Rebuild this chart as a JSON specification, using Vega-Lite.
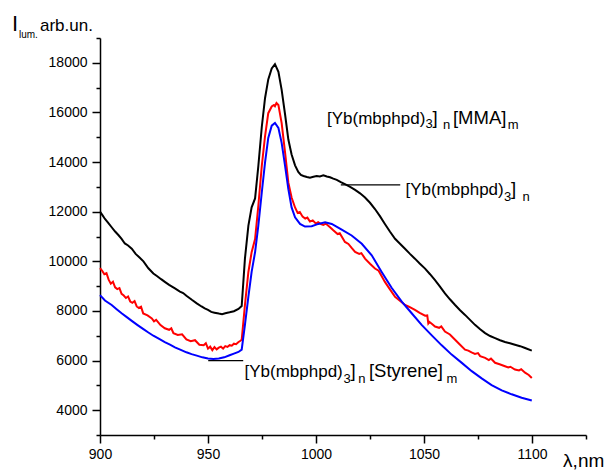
{
  "$schema": "https://vega.github.io/schema/vega-lite/v6.json",
  "width": 486,
  "height": 397,
  "autosize": {"type": "none"},
  "padding": {"left": 100, "top": 38, "right": 24, "bottom": 35},
  "background": "white",
  "config": {"view": {"stroke": null}, "font": "Liberation Sans"},
  "resolve": {"scale": {"x": "shared", "y": "shared"}, "axis": {"x": "independent", "y": "independent"}},
  "encoding": {
    "x": {"field": "x", "type": "quantitative", "scale": {"domain": [900, 1125], "nice": false, "zero": false}, "axis": null},
    "y": {"field": "y", "type": "quantitative", "scale": {"domain": [3000, 19000], "nice": false, "zero": false}, "axis": null}
  },
  "layer": [
    {
      "data": {"values": [
        {"s":"Yb","x":900.0,"y":12000},{"s":"Yb","x":901.2,"y":11850},{"s":"Yb","x":902.3,"y":11707},{"s":"Yb","x":903.8,"y":11550},{"s":"Yb","x":905.4,"y":11373},{"s":"Yb","x":907,"y":11200},{"s":"Yb","x":908.5,"y":11060},{"s":"Yb","x":910.0,"y":10907},{"s":"Yb","x":911.5,"y":10720},{"s":"Yb","x":913,"y":10640},{"s":"Yb","x":914.7,"y":10507},{"s":"Yb","x":916.5,"y":10300},{"s":"Yb","x":918.3,"y":10150},{"s":"Yb","x":920.1,"y":10000},{"s":"Yb","x":922.4,"y":9720},{"s":"Yb","x":924.7,"y":9507},{"s":"Yb","x":926.5,"y":9400},{"s":"Yb","x":928.3,"y":9280},{"s":"Yb","x":930.0,"y":9173},{"s":"Yb","x":932,"y":9050},{"s":"Yb","x":934.7,"y":8907},{"s":"Yb","x":937,"y":8780},{"s":"Yb","x":938.5,"y":8720},{"s":"Yb","x":940.0,"y":8613},{"s":"Yb","x":942.5,"y":8450},{"s":"Yb","x":944.8,"y":8307},{"s":"Yb","x":947,"y":8180},{"s":"Yb","x":948.5,"y":8100},{"s":"Yb","x":950.0,"y":8040},{"s":"Yb","x":951.5,"y":7960},{"s":"Yb","x":953,"y":7930},{"s":"Yb","x":955.0,"y":7893},{"s":"Yb","x":956.5,"y":7870},{"s":"Yb","x":958,"y":7910},{"s":"Yb","x":960.0,"y":7947},{"s":"Yb","x":962,"y":7990},{"s":"Yb","x":964.1,"y":8080},{"s":"Yb","x":965.6,"y":8200},{"s":"Yb","x":967.1,"y":10107},{"s":"Yb","x":968.7,"y":11440},{"s":"Yb","x":970.2,"y":12173},{"s":"Yb","x":971.8,"y":12533},{"s":"Yb","x":973.3,"y":13840},{"s":"Yb","x":974.9,"y":15413},{"s":"Yb","x":976.4,"y":16573},{"s":"Yb","x":977.9,"y":17333},{"s":"Yb","x":979.5,"y":17773},{"s":"Yb","x":981.0,"y":17947},{"s":"Yb","x":982.6,"y":17640},{"s":"Yb","x":984.1,"y":16907},{"s":"Yb","x":985.7,"y":15907},{"s":"Yb","x":987.2,"y":14907},{"s":"Yb","x":988.7,"y":14307},{"s":"Yb","x":990.3,"y":13867},{"s":"Yb","x":991.8,"y":13600},{"s":"Yb","x":993,"y":13480},{"s":"Yb","x":994.2,"y":13440},{"s":"Yb","x":995.8,"y":13400},{"s":"Yb","x":997.2,"y":13373},{"s":"Yb","x":998.8,"y":13410},{"s":"Yb","x":1000.3,"y":13440},{"s":"Yb","x":1001.8,"y":13420},{"s":"Yb","x":1003.4,"y":13467},{"s":"Yb","x":1005,"y":13420},{"s":"Yb","x":1006.5,"y":13387},{"s":"Yb","x":1008,"y":13330},{"s":"Yb","x":1009.6,"y":13280},{"s":"Yb","x":1011.5,"y":13190},{"s":"Yb","x":1013.4,"y":13107},{"s":"Yb","x":1015.8,"y":13000},{"s":"Yb","x":1018.1,"y":12880},{"s":"Yb","x":1020.4,"y":12740},{"s":"Yb","x":1022.7,"y":12573},{"s":"Yb","x":1025,"y":12360},{"s":"Yb","x":1027.3,"y":12107},{"s":"Yb","x":1029.6,"y":11820},{"s":"Yb","x":1031.9,"y":11507},{"s":"Yb","x":1034.2,"y":11200},{"s":"Yb","x":1036.6,"y":10907},{"s":"Yb","x":1039,"y":10700},{"s":"Yb","x":1041.2,"y":10507},{"s":"Yb","x":1043.5,"y":10300},{"s":"Yb","x":1045.8,"y":10107},{"s":"Yb","x":1048,"y":9910},{"s":"Yb","x":1050.5,"y":9707},{"s":"Yb","x":1052.8,"y":9480},{"s":"Yb","x":1055.1,"y":9240},{"s":"Yb","x":1057.4,"y":8980},{"s":"Yb","x":1059.7,"y":8707},{"s":"Yb","x":1062,"y":8470},{"s":"Yb","x":1064.4,"y":8240},{"s":"Yb","x":1066.7,"y":8030},{"s":"Yb","x":1069,"y":7840},{"s":"Yb","x":1071.3,"y":7640},{"s":"Yb","x":1073.6,"y":7440},{"s":"Yb","x":1076,"y":7260},{"s":"Yb","x":1078.3,"y":7107},{"s":"Yb","x":1080.6,"y":6990},{"s":"Yb","x":1082.9,"y":6907},{"s":"Yb","x":1085.2,"y":6820},{"s":"Yb","x":1087.5,"y":6747},{"s":"Yb","x":1089.8,"y":6700},{"s":"Yb","x":1092.1,"y":6640},{"s":"Yb","x":1094.5,"y":6580},{"s":"Yb","x":1096.8,"y":6507},{"s":"Yb","x":1099.9,"y":6400},

        {"s":"YbMMA","x":900,"y":9730},{"s":"YbMMA","x":901,"y":9620},{"s":"YbMMA","x":902,"y":9480},{"s":"YbMMA","x":903,"y":9520},{"s":"YbMMA","x":904,"y":9260},{"s":"YbMMA","x":905,"y":9100},{"s":"YbMMA","x":906,"y":9180},{"s":"YbMMA","x":907,"y":8950},{"s":"YbMMA","x":908,"y":8880},{"s":"YbMMA","x":909,"y":8920},{"s":"YbMMA","x":910,"y":8690},{"s":"YbMMA","x":911,"y":8620},{"s":"YbMMA","x":912,"y":8520},{"s":"YbMMA","x":913,"y":8580},{"s":"YbMMA","x":914,"y":8380},{"s":"YbMMA","x":915,"y":8330},{"s":"YbMMA","x":916,"y":8400},{"s":"YbMMA","x":917,"y":8180},{"s":"YbMMA","x":918,"y":8120},{"s":"YbMMA","x":919,"y":8170},{"s":"YbMMA","x":920,"y":7900},{"s":"YbMMA","x":922,"y":7820},{"s":"YbMMA","x":924,"y":7700},{"s":"YbMMA","x":925,"y":7580},{"s":"YbMMA","x":926,"y":7640},{"s":"YbMMA","x":928,"y":7430},{"s":"YbMMA","x":930,"y":7300},{"s":"YbMMA","x":932,"y":7240},{"s":"YbMMA","x":933,"y":7300},{"s":"YbMMA","x":934,"y":7100},{"s":"YbMMA","x":936,"y":7030},{"s":"YbMMA","x":938,"y":7060},{"s":"YbMMA","x":940,"y":6850},{"s":"YbMMA","x":942,"y":6780},{"s":"YbMMA","x":944,"y":6820},{"s":"YbMMA","x":946,"y":6640},{"s":"YbMMA","x":948,"y":6620},{"s":"YbMMA","x":949,"y":6700},{"s":"YbMMA","x":950,"y":6480},{"s":"YbMMA","x":951,"y":6560},{"s":"YbMMA","x":952,"y":6420},{"s":"YbMMA","x":953,"y":6540},{"s":"YbMMA","x":954,"y":6450},{"s":"YbMMA","x":955,"y":6520},{"s":"YbMMA","x":956,"y":6560},{"s":"YbMMA","x":957,"y":6480},{"s":"YbMMA","x":958,"y":6580},{"s":"YbMMA","x":959,"y":6550},{"s":"YbMMA","x":960,"y":6620},{"s":"YbMMA","x":961,"y":6600},{"s":"YbMMA","x":962,"y":6680},{"s":"YbMMA","x":963,"y":6660},{"s":"YbMMA","x":964,"y":6740},{"s":"YbMMA","x":965,"y":6800},{"s":"YbMMA","x":965.6,"y":6840},{"s":"YbMMA","x":967.1,"y":8240},{"s":"YbMMA","x":968.7,"y":9570},{"s":"YbMMA","x":970.2,"y":10370},{"s":"YbMMA","x":971.8,"y":10900},{"s":"YbMMA","x":973.3,"y":12240},{"s":"YbMMA","x":974.9,"y":13840},{"s":"YbMMA","x":976.4,"y":15040},{"s":"YbMMA","x":977.9,"y":15970},{"s":"YbMMA","x":979.5,"y":16240},{"s":"YbMMA","x":980.5,"y":16300},{"s":"YbMMA","x":981.0,"y":16250},{"s":"YbMMA","x":981.7,"y":16380},{"s":"YbMMA","x":982.6,"y":16300},{"s":"YbMMA","x":984.1,"y":15570},{"s":"YbMMA","x":985.7,"y":14370},{"s":"YbMMA","x":987.2,"y":13170},{"s":"YbMMA","x":988.7,"y":12570},{"s":"YbMMA","x":990.3,"y":12170},{"s":"YbMMA","x":991.5,"y":11950},{"s":"YbMMA","x":992.5,"y":11990},{"s":"YbMMA","x":993.8,"y":11800},{"s":"YbMMA","x":995,"y":11720},{"s":"YbMMA","x":996,"y":11760},{"s":"YbMMA","x":997.2,"y":11600},{"s":"YbMMA","x":998.5,"y":11650},{"s":"YbMMA","x":1000,"y":11520},{"s":"YbMMA","x":1001,"y":11580},{"s":"YbMMA","x":1002.3,"y":11500},{"s":"YbMMA","x":1003.4,"y":11470},{"s":"YbMMA","x":1004.5,"y":11520},{"s":"YbMMA","x":1006.5,"y":11370},{"s":"YbMMA","x":1008,"y":11250},{"s":"YbMMA","x":1010,"y":11100},{"s":"YbMMA","x":1011,"y":11130},{"s":"YbMMA","x":1013.4,"y":10780},{"s":"YbMMA","x":1015,"y":10700},{"s":"YbMMA","x":1016.5,"y":10540},{"s":"YbMMA","x":1018.1,"y":10380},{"s":"YbMMA","x":1020,"y":10300},{"s":"YbMMA","x":1021,"y":10330},{"s":"YbMMA","x":1022.7,"y":10110},{"s":"YbMMA","x":1025,"y":9900},{"s":"YbMMA","x":1027.3,"y":9710},{"s":"YbMMA","x":1029,"y":9620},{"s":"YbMMA","x":1031.9,"y":9170},{"s":"YbMMA","x":1034,"y":8900},{"s":"YbMMA","x":1036.6,"y":8570},{"s":"YbMMA","x":1039,"y":8400},{"s":"YbMMA","x":1041.2,"y":8240},{"s":"YbMMA","x":1043,"y":8170},{"s":"YbMMA","x":1045.8,"y":8040},{"s":"YbMMA","x":1048,"y":7920},{"s":"YbMMA","x":1050.5,"y":7810},{"s":"YbMMA","x":1051.5,"y":7820},{"s":"YbMMA","x":1052,"y":7500},{"s":"YbMMA","x":1052.5,"y":7560},{"s":"YbMMA","x":1054,"y":7450},{"s":"YbMMA","x":1055.1,"y":7370},{"s":"YbMMA","x":1057,"y":7320},{"s":"YbMMA","x":1058,"y":7380},{"s":"YbMMA","x":1059.7,"y":7170},{"s":"YbMMA","x":1062,"y":7050},{"s":"YbMMA","x":1064.4,"y":6840},{"s":"YbMMA","x":1066,"y":6700},{"s":"YbMMA","x":1069,"y":6440},{"s":"YbMMA","x":1070.5,"y":6400},{"s":"YbMMA","x":1072,"y":6330},{"s":"YbMMA","x":1073.6,"y":6270},{"s":"YbMMA","x":1075,"y":6300},{"s":"YbMMA","x":1076,"y":6180},{"s":"YbMMA","x":1078.3,"y":6110},{"s":"YbMMA","x":1080,"y":6020},{"s":"YbMMA","x":1081,"y":6080},{"s":"YbMMA","x":1082.9,"y":5910},{"s":"YbMMA","x":1085,"y":5850},{"s":"YbMMA","x":1087.5,"y":5770},{"s":"YbMMA","x":1089,"y":5720},{"s":"YbMMA","x":1090,"y":5750},{"s":"YbMMA","x":1092.1,"y":5640},{"s":"YbMMA","x":1094,"y":5600},{"s":"YbMMA","x":1095,"y":5650},{"s":"YbMMA","x":1096.8,"y":5510},{"s":"YbMMA","x":1098.5,"y":5420},{"s":"YbMMA","x":1099.9,"y":5300},

        {"s":"YbSt","x":900.0,"y":8640},{"s":"YbSt","x":902.3,"y":8420},{"s":"YbSt","x":905.4,"y":8240},{"s":"YbSt","x":907.7,"y":8070},{"s":"YbSt","x":910.0,"y":7907},{"s":"YbSt","x":912.4,"y":7750},{"s":"YbSt","x":914.7,"y":7600},{"s":"YbSt","x":917.4,"y":7430},{"s":"YbSt","x":920.1,"y":7267},{"s":"YbSt","x":922.4,"y":7130},{"s":"YbSt","x":924.7,"y":7000},{"s":"YbSt","x":927.4,"y":6870},{"s":"YbSt","x":930.0,"y":6747},{"s":"YbSt","x":932.4,"y":6640},{"s":"YbSt","x":934.7,"y":6533},{"s":"YbSt","x":937.4,"y":6430},{"s":"YbSt","x":940.0,"y":6333},{"s":"YbSt","x":942.4,"y":6260},{"s":"YbSt","x":944.8,"y":6200},{"s":"YbSt","x":947.4,"y":6130},{"s":"YbSt","x":950.0,"y":6080},{"s":"YbSt","x":952.5,"y":6060},{"s":"YbSt","x":955.0,"y":6080},{"s":"YbSt","x":957.5,"y":6130},{"s":"YbSt","x":960.0,"y":6213},{"s":"YbSt","x":962,"y":6280},{"s":"YbSt","x":964.1,"y":6347},{"s":"YbSt","x":965.6,"y":6440},{"s":"YbSt","x":967.1,"y":7440},{"s":"YbSt","x":968.7,"y":8573},{"s":"YbSt","x":970.2,"y":9573},{"s":"YbSt","x":971.8,"y":10373},{"s":"YbSt","x":973.3,"y":11440},{"s":"YbSt","x":974.9,"y":12773},{"s":"YbSt","x":976.4,"y":13973},{"s":"YbSt","x":977.9,"y":14973},{"s":"YbSt","x":979.5,"y":15467},{"s":"YbSt","x":981.0,"y":15573},{"s":"YbSt","x":982.6,"y":15373},{"s":"YbSt","x":984.1,"y":14773},{"s":"YbSt","x":985.7,"y":13840},{"s":"YbSt","x":987.2,"y":12907},{"s":"YbSt","x":988.7,"y":12173},{"s":"YbSt","x":990.3,"y":11773},{"s":"YbSt","x":992.6,"y":11507},{"s":"YbSt","x":994.9,"y":11400},{"s":"YbSt","x":998,"y":11413},{"s":"YbSt","x":1001.1,"y":11507},{"s":"YbSt","x":1004.2,"y":11573},{"s":"YbSt","x":1007.3,"y":11507},{"s":"YbSt","x":1011.9,"y":11280},{"s":"YbSt","x":1016.5,"y":11040},{"s":"YbSt","x":1021.2,"y":10707},{"s":"YbSt","x":1025.8,"y":10240},{"s":"YbSt","x":1030.4,"y":9573},{"s":"YbSt","x":1035.0,"y":8933},{"s":"YbSt","x":1039.7,"y":8373},{"s":"YbSt","x":1044.3,"y":7907},{"s":"YbSt","x":1048.9,"y":7440},{"s":"YbSt","x":1053.6,"y":7013},{"s":"YbSt","x":1058.2,"y":6613},{"s":"YbSt","x":1062.8,"y":6240},{"s":"YbSt","x":1067.5,"y":5907},{"s":"YbSt","x":1072.1,"y":5573},{"s":"YbSt","x":1076.7,"y":5280},{"s":"YbSt","x":1081.3,"y":5013},{"s":"YbSt","x":1086,"y":4800},{"s":"YbSt","x":1090.6,"y":4640},{"s":"YbSt","x":1095.2,"y":4500},{"s":"YbSt","x":1099.9,"y":4390}
      ]},
      "mark": {"type": "line", "strokeWidth": 2, "interpolate": "linear"},
      "encoding": {
        "x": {
          "field": "x", "type": "quantitative",
          "scale": {"domain": [900, 1125], "nice": false, "zero": false},
          "axis": {
            "orient": "bottom",
            "values": [900, 950, 1000, 1050, 1100],
            "format": "d", "title": null, "grid": false,
            "domainColor": "#000000", "domainWidth": 1.5,
            "tickColor": "#000000", "tickWidth": 1.5, "tickSize": 8,
            "labelFontSize": 14, "labelColor": "#000000", "labelFont": "Liberation Sans",
            "labelPadding": 4, "labelFlush": false, "labelOverlap": false
          }
        },
        "y": {
          "field": "y", "type": "quantitative",
          "scale": {"domain": [3000, 19000], "nice": false, "zero": false},
          "axis": {
            "orient": "left",
            "values": [4000, 6000, 8000, 10000, 12000, 14000, 16000, 18000],
            "format": "d", "title": null, "grid": false,
            "domainColor": "#000000", "domainWidth": 1.5,
            "tickColor": "#000000", "tickWidth": 1.5, "tickSize": 8,
            "labelFontSize": 14, "labelColor": "#000000", "labelFont": "Liberation Sans",
            "labelPadding": 5, "labelFlush": false, "labelOverlap": false
          }
        },
        "color": {"field": "s", "type": "nominal",
          "scale": {"domain": ["Yb", "YbMMA", "YbSt"], "range": ["#000000", "#ff0000", "#0000ff"]},
          "legend": null}
      }
    },
    {
      "data": {"values": [
        {"x": 1011.5, "x2": 1039, "y": 13080},
        {"x": 950.1, "x2": 966.3, "y": 6000}
      ]},
      "mark": {"type": "rule", "color": "#000000", "strokeWidth": 1.2},
      "encoding": {
        "x": {
          "field": "x", "type": "quantitative",
          "scale": {"domain": [900, 1125], "nice": false, "zero": false},
          "axis": {
            "orient": "bottom",
            "values": [925, 975, 1025, 1075, 1125],
            "labels": false, "domain": false, "title": null, "grid": false,
            "tickColor": "#000000", "tickWidth": 1.5, "tickSize": 4
          }
        },
        "x2": {"field": "x2"},
        "y": {
          "field": "y", "type": "quantitative",
          "scale": {"domain": [3000, 19000], "nice": false, "zero": false},
          "axis": {
            "orient": "left",
            "values": [3000, 5000, 7000, 9000, 11000, 13000, 15000, 17000, 19000],
            "labels": false, "domain": false, "title": null, "grid": false,
            "tickColor": "#000000", "tickWidth": 1.5, "tickSize": 4
          }
        }
      }
    },
    {
      "data": {"values": [
        {"t": "[Yb(mbphpd)", "x": 1005.1, "y": 15548},
        {"t": "[Yb(mbphpd)", "x": 1041.4, "y": 12667},
        {"t": "[Yb(mbphpd)", "x": 966.9, "y": 5354},
        {"t": "arb.un.", "x": 872.2, "y": 19297}
      ]},
      "mark": {"type": "text", "align": "left", "baseline": "alphabetic", "fontSize": 17, "font": "Liberation Sans", "color": "#000000"},
      "encoding": {"text": {"field": "t"}}
    },
    {
      "data": {"values": [
        {"t": "]", "x": 1053.9, "y": 15548},
        {"t": "[MMA]", "x": 1063.4, "y": 15548},
        {"t": "]", "x": 1090.3, "y": 12667},
        {"t": "]", "x": 1016.0, "y": 5354},
        {"t": "[Styrene]", "x": 1024.5, "y": 5354}
      ]},
      "mark": {"type": "text", "align": "left", "baseline": "alphabetic", "fontSize": 18.5, "font": "Liberation Sans", "color": "#000000"},
      "encoding": {"text": {"field": "t"}}
    },
    {
      "data": {"values": [
        {"t": "3", "x": 1050.7, "y": 15359},
        {"t": "n", "x": 1058.8, "y": 15319},
        {"t": "m", "x": 1088.8, "y": 15339},
        {"t": "3", "x": 1087.0, "y": 12438},
        {"t": "n", "x": 1095.6, "y": 12438},
        {"t": "3", "x": 1012.7, "y": 5093},
        {"t": "n", "x": 1019.6, "y": 5093},
        {"t": "m", "x": 1060.4, "y": 5093}
      ]},
      "mark": {"type": "text", "align": "left", "baseline": "alphabetic", "fontSize": 13, "font": "Liberation Sans", "color": "#000000"},
      "encoding": {"text": {"field": "t"}}
    },
    {
      "data": {"values": [{"t": "I", "x": 859.3, "y": 19297}]},
      "mark": {"type": "text", "align": "left", "baseline": "alphabetic", "fontSize": 22, "font": "Liberation Sans", "color": "#000000"},
      "encoding": {"text": {"field": "t"}}
    },
    {
      "data": {"values": [{"t": "lum.", "x": 862.5, "y": 19015}]},
      "mark": {"type": "text", "align": "left", "baseline": "alphabetic", "fontSize": 10, "font": "Liberation Sans", "color": "#000000"},
      "encoding": {"text": {"field": "t"}}
    },
    {
      "data": {"values": [{"t": "λ,nm", "x": 1114.4, "y": 1698}]},
      "mark": {"type": "text", "align": "left", "baseline": "alphabetic", "fontSize": 19, "font": "Liberation Sans", "color": "#000000"},
      "encoding": {"text": {"field": "t"}}
    }
  ]
}
